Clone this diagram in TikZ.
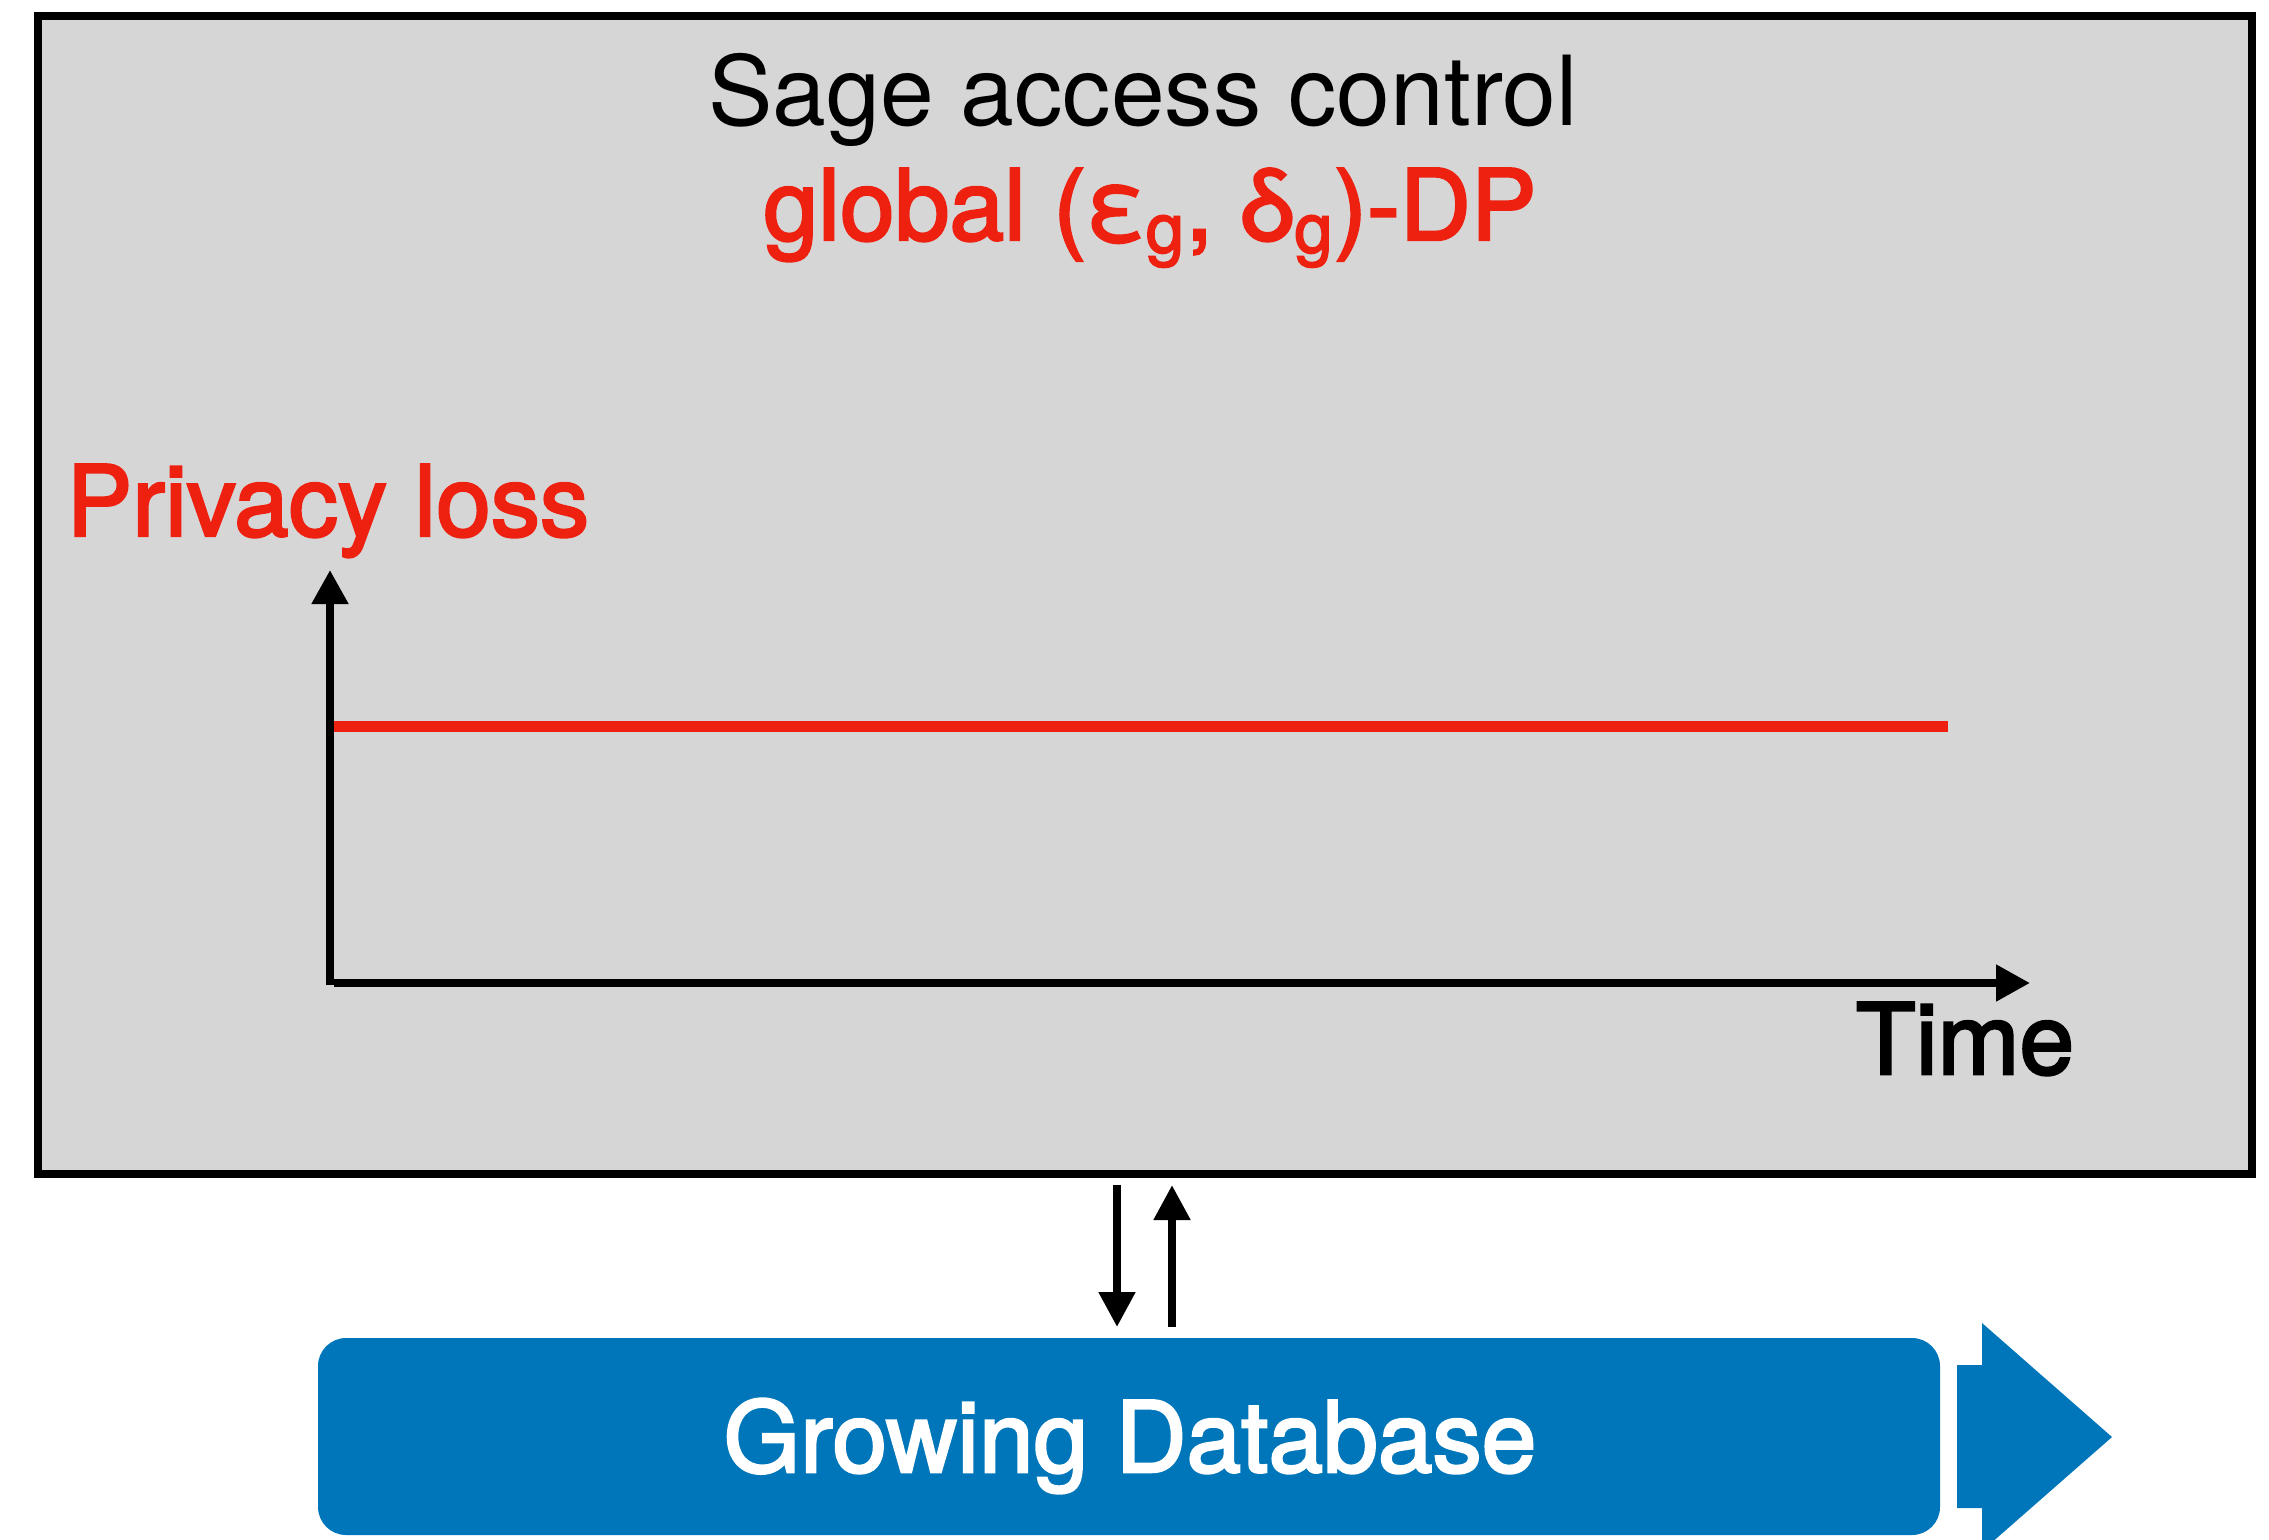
\documentclass[tikz,border=0pt]{standalone}
\usepackage{fontspec}
\setmainfont{TeX Gyre Heros}
\newfontfamily\medfont[FakeBold=2.5]{TeX Gyre Heros}
\usetikzlibrary{arrows.meta}
\definecolor{boxgray}{HTML}{D6D6D6}
\definecolor{dpred}{HTML}{EE2010}
\definecolor{dbblue}{HTML}{0076BA}
\tikzset{
  axisline/.style={line width=2.4pt, -{Triangle[length=10.2pt,width=10.5pt]}},
  flowline/.style={line width=2.4pt, -{Triangle[length=10.5pt,width=10.5pt]}},
  bigtext/.style={font=\fontsize{29pt}{34pt}\selectfont, inner sep=0pt, anchor=base},
  medtext/.style={font=\fontsize{29.5pt}{34pt}\selectfont\medfont, inner sep=0pt, anchor=base},
}
\begin{document}
\begin{tikzpicture}[x=0.3pt, y=-0.3pt]
\useasboundingbox (0,0) rectangle (2269,1539);
\clip (0,0) rectangle (2269,1539);
% outer box
\node[draw=black, fill=boxgray, line width=2.4pt, rectangle, inner sep=0pt, outer sep=0pt,
      minimum width=664.05pt, minimum height=347.4pt] (box) at (1144.75,595) {};
% titles
\node[bigtext] (title) at (1143,125) {Sage access control};
\node[medtext, text=dpred] (dp) at (1150,240) {global (ε\textsubscript{g}, δ\textsubscript{g})-DP};
% axes
\node[medtext, anchor=base west, text=dpred] (ylab) at (66,536) {Privacy loss};
\node[medtext, anchor=base west] (xlab) at (1855,1074) {Time};
\coordinate (ybot) at (330,985);
\coordinate (ytop) at (330,570);
\coordinate (xleft) at (334,983);
\coordinate (xright) at (2030,983);
\draw[axisline] (ybot) -- (ytop);
\draw[axisline] (xleft) -- (xright);
\coordinate (rl) at (334,726);
\coordinate (rr) at (1948,726);
\draw[dpred, line width=3.3pt] (rl) -- (rr);
% database
\node[fill=dbblue, rounded corners=8.4pt, inner sep=0pt, outer sep=0pt,
      minimum width=486.6pt, minimum height=59.1pt] (db) at (1129,1436.5) {};
\node[medtext, text=white] (dblabel) at (1130,1472) {Growing Database};
\fill[dbblue] (1957,1365) -- (1982,1365) -- (1982,1323) -- (2112,1437) -- (1982,1551) -- (1982,1508) -- (1957,1508) -- cycle;
% flow arrows
\coordinate (d1) at (1117,1185);
\coordinate (d2) at (1117,1327);
\coordinate (u1) at (1172,1327);
\coordinate (u2) at (1172,1185);
\draw[flowline] (d1) -- (d2);
\draw[flowline] (u1) -- (u2);
\end{tikzpicture}
\end{document}
